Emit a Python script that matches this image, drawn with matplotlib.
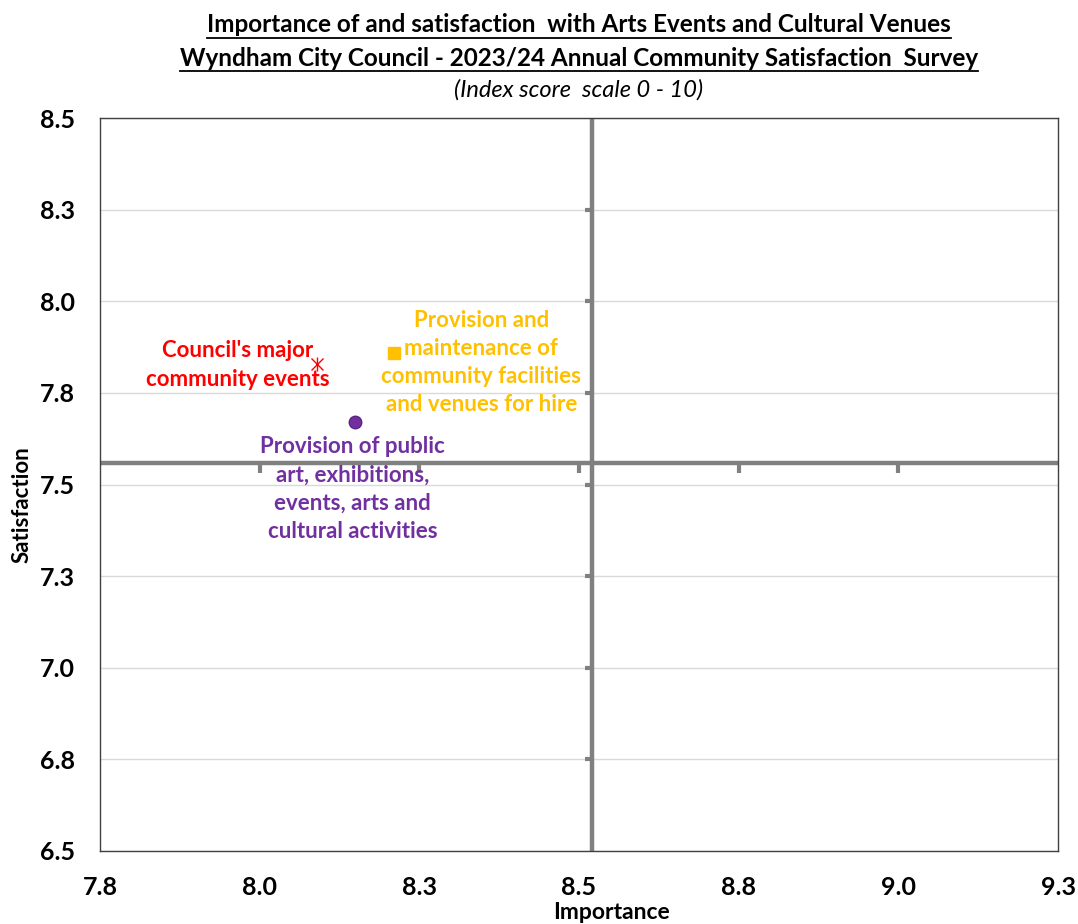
import numpy as np
import matplotlib
matplotlib.use('Agg')
from matplotlib import pyplot as plt
from matplotlib.lines import Line2D

plt.rcParams['font.family'] = ['Lato', 'DejaVu Sans']

labels = ["Council's major\ncommunity events",
          "Provision and\nmaintenance of\ncommunity facilities\nand venues for hire",
          "Provision of public\nart, exhibitions,\nevents, arts and\ncultural activities"]
importance = [8.09, 8.21, 8.15]
satisfaction = [7.83, 7.86, 7.67]
colors = ['#FF0000', '#FFC000', '#7030A0']
mean_importance = 8.52
mean_satisfaction = 7.56

xticks = [7.75, 8.0, 8.25, 8.5, 8.75, 9.0, 9.25]
xticklabels = ['7.8', '8.0', '8.3', '8.5', '8.8', '9.0', '9.3']
yticks = [6.5, 6.75, 7.0, 7.25, 7.5, 7.75, 8.0, 8.25, 8.5]
yticklabels = ['6.5', '6.8', '7.0', '7.3', '7.5', '7.8', '8.0', '8.3', '8.5']

fig=plt.figure(figsize=(10.78, 9.24), dpi=100)
ax=fig.add_axes([100/1078, 1-851/924, 958/1078, 733/924])
ax.set_xlim(7.75, 9.25)
ax.set_ylim(6.5, 8.5)
ax.set_xticks(xticks)
ax.set_xticklabels(xticklabels, fontsize=18, fontweight='bold')
ax.set_yticks(yticks)
ax.set_yticklabels(yticklabels, fontsize=18, fontweight='bold')
ax.tick_params(length=0, pad=18)
ax.yaxis.grid(True, color='#D9D9D9', lw=1)
ax.set_axisbelow(True)
for s in ax.spines.values():
    s.set_color('#404040')
    s.set_linewidth(1)

# quadrant lines with their tick marks
ax.axhline(mean_satisfaction, color='#808080', lw=3.2, zorder=2)
ax.axvline(mean_importance, color='#808080', lw=3.2, zorder=2)
ax.plot(xticks[1:-1], [mean_satisfaction]*5, ls='none', marker=3, ms=7, mew=3, color='#808080', zorder=2)
ax.plot([mean_importance]*7, yticks[1:-1], ls='none', marker=0, ms=5, mew=3, color='#808080', zorder=2)

# points
ax.plot(importance[0], satisfaction[0], marker='x', ms=9, mew=1, color=colors[0], ls='none', zorder=4)
ax.plot(importance[0], satisfaction[0], marker='|', ms=10, mew=1, color=colors[0], ls='none', zorder=4)
ax.plot(importance[1], satisfaction[1], marker='s', ms=8, color=colors[1], ls='none', zorder=4)
ax.plot(importance[2], satisfaction[2], marker='o', ms=9, mfc=colors[2], mec='#5A2580', ls='none', zorder=4)

offsets = [(-57, -1), (63, -7), (-2, -48)]
for i in range(3):
    ax.annotate(labels[i], (importance[i], satisfaction[i]), xytext=offsets[i],
                textcoords='offset points', ha='center', va='center',
                color=colors[i], fontsize=16, fontweight='bold', linespacing=1.42, zorder=5)

ax.set_xlabel('Importance', fontsize=16.5, fontweight='bold')
ax.set_ylabel('Satisfaction', fontsize=16, fontweight='bold')
ax.xaxis.set_label_coords(0.534, -0.07)
ax.yaxis.set_label_coords(-0.07, 0.472)

cx = (100+1058)/2/1078
t1 = fig.text(cx, 1-25/924, 'Importance of and satisfaction  with Arts Events and Cultural Venues',
              ha='center', va='center', fontsize=17.5, fontweight='bold')
t2 = fig.text(cx, 1-58/924, 'Wyndham City Council - 2023/24 Annual Community Satisfaction  Survey',
              ha='center', va='center', fontsize=17.5, fontweight='bold')
fig.text(cx, 1-90/924, '(Index score  scale 0 - 10)', ha='center', va='center',
         fontsize=17, fontstyle='italic')

# underline the title lines
fig.canvas.draw()
r = fig.canvas.get_renderer()
for t in (t1, t2):
    bb = t.get_window_extent(r)
    y = (bb.y0 - 1) / fig.bbox.height
    fig.add_artist(Line2D([bb.x0/fig.bbox.width, bb.x1/fig.bbox.width], [y, y],
                          transform=fig.transFigure, color='black', lw=1.3))

plt.savefig('out.png', dpi=100)
